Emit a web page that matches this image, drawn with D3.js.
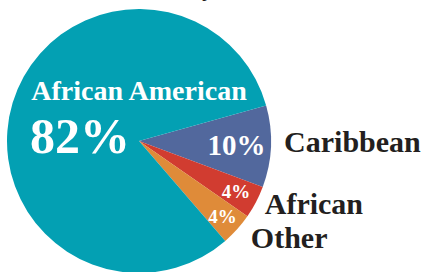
<!DOCTYPE html>
<html>
<head>
<meta charset="utf-8">
<script src="https://cdn.jsdelivr.net/npm/d3@7"></script>
<style>
  body { margin: 0; background: #fff; }
  text { font-family: "Liberation Serif", serif; font-weight: bold; }
</style>
</head>
<body>
<script>
const groups = ['Caribbean', 'African', 'Other', 'African American'];
const shares = [10, 4, 4, 82];
const colors = ['#52689d', '#d13c30', '#df8b39', '#03a0b3'];

const width = 424,
  height = 272;

const cx = 139,
  cy = 141,
  r = 132;

const svg = d3
  .select('body')
  .append('svg')
  .attr('width', width)
  .attr('height', height);

const g = svg.append('g').attr('transform', `translate(${cx},${cy})`);

const pie = d3
  .pie()
  .sort(null)
  .startAngle((74.4 * Math.PI) / 180)
  .endAngle((74.4 * Math.PI) / 180 + 2 * Math.PI);

const arc = d3.arc().innerRadius(0).outerRadius(r);

const slices = pie(shares);

g.selectAll('.slice')
  .data(slices)
  .enter()
  .append('path')
  .attr('class', 'slice')
  .attr('d', arc)
  .style('fill', (d, i) => colors[i]);

// title sits above the frame, only a descender shows
svg
  .append('text')
  .attr('x', 214)
  .attr('y', -4)
  .attr('text-anchor', 'end')
  .style('font-size', '24px')
  .style('fill', '#231f20')
  .text('Ancestry');

const polar = (a, rad) => [rad * Math.sin(a), -rad * Math.cos(a)];
const mid = d => (d.startAngle + d.endAngle) / 2;

// inner percentages for the small slices
const inner = [
  { i: 0, k: 0.74, size: 29 },
  { i: 1, k: 0.83, size: 19 },
  { i: 2, k: 0.85, size: 19 }
];
inner.forEach(o => {
  const [x, y] = polar(mid(slices[o.i]), r * o.k);
  g.append('text')
    .attr('x', x)
    .attr('y', y)
    .attr('dy', '0.34em')
    .attr('text-anchor', 'middle')
    .style('font-size', o.size + 'px')
    .style('fill', '#fff')
    .text(shares[o.i] + '%');
});

// outside names
const outer = [
  { i: 0, k: 1.1, dy: 5 },
  { i: 1, k: 1.075, dy: 7 },
  { i: 2, k: 1.14, dy: 6 }
];
outer.forEach(o => {
  const [x, y] = polar(mid(slices[o.i]), r * o.k);
  g.append('text')
    .attr('x', x)
    .attr('y', y + o.dy)
    .style('font-size', '30px')
    .style('fill', '#231f20')
    .text(groups[o.i]);
});

// big slice label
g.append('text')
  .attr('x', 0)
  .attr('y', -41)
  .attr('text-anchor', 'middle')
  .style('font-size', '28px')
  .style('fill', '#fff')
  .text(groups[3]);

g.append('text')
  .attr('x', -59)
  .attr('y', 12)
  .attr('text-anchor', 'middle')
  .style('font-size', '50px')
  .style('fill', '#fff')
  .text(shares[3] + '%');
</script>
</body>
</html>
